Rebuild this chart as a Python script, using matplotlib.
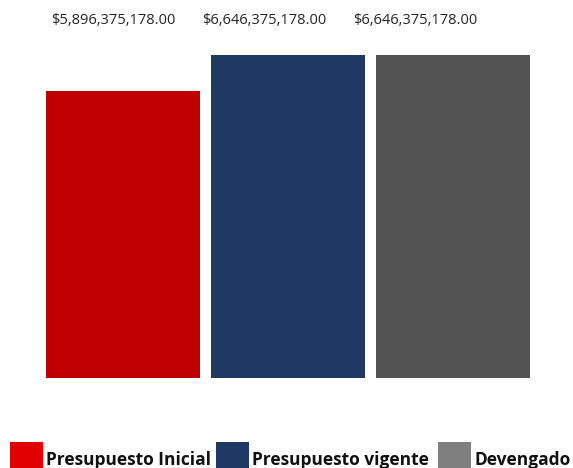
import matplotlib.pyplot as plt
from matplotlib.patches import Rectangle

categories = ['Presupuesto Inicial', 'Presupuesto vigente', 'Devengado']
values = [5896375178.00, 6646375178.00, 6646375178.00]
labels = ['$5,896,375,178.00', '$6,646,375,178.00', '$6,646,375,178.00']
bar_colors = ['#C00000', '#203864', '#525252']
legend_colors = ['#E00000', '#203864', '#7F7F7F']

W, H = 573, 468
fig = plt.figure(figsize=(W / 100, H / 100), dpi=100)
ax = fig.add_axes([46 / W, 90 / H, 484 / W, 323 / H])

x = range(len(values))
ax.bar(x, values, width=154 / 165, color=bar_colors)
ax.set_xlim(-0.5 * 154 / 165, 2 + 0.5 * 154 / 165)
ax.set_ylim(0, max(values))
ax.axis('off')

# value labels along the top
for px, lab in zip([113, 264, 415], labels):
    fig.text(px / W, 1 - 20 / H, lab, ha='center', va='center',
             fontsize=10.5, color='#252525', family='Open Sans')

# legend at the bottom
squares = [10, 216, 438]
for sx, col, name in zip(squares, legend_colors, categories):
    fig.add_artist(Rectangle((sx / W, 0), 33 / W, 26 / H,
                             transform=fig.transFigure, color=col, lw=0))
    fig.text((sx + 36) / W, 8 / H, name, ha='left', va='center',
             fontsize=12.5, fontweight='bold', color='#111111', family='Open Sans')

fig.savefig('out.png', dpi=100)
